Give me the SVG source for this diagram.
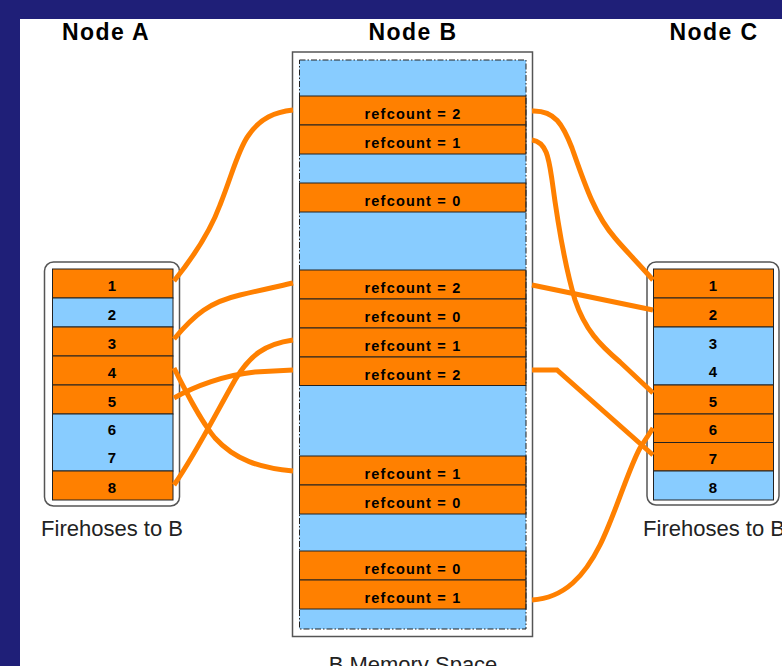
<svg xmlns="http://www.w3.org/2000/svg" width="782" height="666" viewBox="0 0 782 666">
<style>
.title{font-family:"Liberation Sans",Arial,sans-serif;font-weight:bold;font-size:23px;letter-spacing:1.4px;fill:#000;text-anchor:middle}
.cap{font-family:"Liberation Sans",Arial,sans-serif;font-size:22px;fill:#222;text-anchor:middle}
.lbl{font-family:"Liberation Sans",Arial,sans-serif;font-weight:bold;font-size:14.5px;letter-spacing:1.2px;fill:#000;text-anchor:middle}
.num{font-family:"Liberation Sans",Arial,sans-serif;font-weight:bold;font-size:15px;fill:#000;text-anchor:middle}
.o{fill:#FF8000;stroke:#222;stroke-width:1}
.b{fill:#88CCFF;stroke:#222;stroke-width:1}
.bn{fill:#88CCFF;stroke:none}
.frame{fill:#fff;stroke:#555;stroke-width:1.5}
.conn path{fill:none;stroke:#FF8000;stroke-width:5}
</style>
<rect x="0" y="0" width="782" height="666" fill="#1f1f78"/>
<rect x="20" y="19" width="762" height="647" fill="#fff"/>
<text class="title" x="106" y="40">Node A</text>
<text class="title" x="413" y="40">Node B</text>
<text class="title" x="714" y="40">Node C</text>

<g id="nodeB">
<rect class="frame" x="292.5" y="52" width="240" height="584.5"/>
<rect class="bn" x="299.5" y="60" width="226.5" height="569"/>
<rect class="o" x="299.5" y="96" width="226.5" height="29"/>
<rect class="o" x="299.5" y="125" width="226.5" height="29"/>
<rect class="o" x="299.5" y="183" width="226.5" height="29"/>
<rect class="o" x="299.5" y="270" width="226.5" height="29"/>
<rect class="o" x="299.5" y="299" width="226.5" height="29"/>
<rect class="o" x="299.5" y="328" width="226.5" height="29"/>
<rect class="o" x="299.5" y="357" width="226.5" height="28.5"/>
<rect class="o" x="299.5" y="456" width="226.5" height="29"/>
<rect class="o" x="299.5" y="485" width="226.5" height="29"/>
<rect class="o" x="299.5" y="551" width="226.5" height="29"/>
<rect class="o" x="299.5" y="580" width="226.5" height="29"/>
<rect x="299.5" y="60" width="226.5" height="569" fill="none" stroke="#222" stroke-width="1" stroke-dasharray="6 2 1.5 2"/>
<text class="lbl" x="413" y="119">refcount = 2</text>
<text class="lbl" x="413" y="148">refcount = 1</text>
<text class="lbl" x="413" y="206">refcount = 0</text>
<text class="lbl" x="413" y="293">refcount = 2</text>
<text class="lbl" x="413" y="322">refcount = 0</text>
<text class="lbl" x="413" y="351">refcount = 1</text>
<text class="lbl" x="413" y="380">refcount = 2</text>
<text class="lbl" x="413" y="479">refcount = 1</text>
<text class="lbl" x="413" y="508">refcount = 0</text>
<text class="lbl" x="413" y="574">refcount = 0</text>
<text class="lbl" x="413" y="603">refcount = 1</text>
<text class="cap" x="413" y="672">B Memory Space</text>
</g>

<g id="nodeA">
<rect class="frame" x="44.5" y="262" width="135" height="244" rx="9"/>
<rect class="o" x="52.5" y="269" width="120.5" height="29"/>
<rect class="b" x="52.5" y="298" width="120.5" height="29"/>
<rect class="o" x="52.5" y="327" width="120.5" height="29"/>
<rect class="o" x="52.5" y="356" width="120.5" height="29"/>
<rect class="o" x="52.5" y="385" width="120.5" height="29"/>
<rect class="b" x="52.5" y="414" width="120.5" height="57"/>
<rect class="o" x="52.5" y="471" width="120.5" height="29"/>
<text class="num" x="112" y="291">1</text>
<text class="num" x="112" y="320">2</text>
<text class="num" x="112" y="349">3</text>
<text class="num" x="112" y="378">4</text>
<text class="num" x="112" y="407">5</text>
<text class="num" x="112" y="435">6</text>
<text class="num" x="112" y="463">7</text>
<text class="num" x="112" y="493">8</text>
<text class="cap" x="112" y="536">Firehoses to B</text>
</g>

<g id="nodeC">
<rect class="frame" x="647" y="262" width="132" height="243" rx="9"/>
<rect class="o" x="653.5" y="269" width="120" height="29"/>
<rect class="o" x="653.5" y="298" width="120" height="29"/>
<rect class="b" x="653.5" y="327" width="120" height="58"/>
<rect class="o" x="653.5" y="385" width="120" height="29"/>
<rect class="o" x="653.5" y="414" width="120" height="28.5"/>
<rect class="o" x="653.5" y="442.5" width="120" height="28.5"/>
<rect class="b" x="653.5" y="471" width="120" height="29"/>
<text class="num" x="713" y="291">1</text>
<text class="num" x="713" y="320">2</text>
<text class="num" x="713" y="349">3</text>
<text class="num" x="713" y="377">4</text>
<text class="num" x="713" y="407">5</text>
<text class="num" x="713" y="435">6</text>
<text class="num" x="713" y="464">7</text>
<text class="num" x="713" y="493">8</text>
<text class="cap" x="714" y="536">Firehoses to B</text>
</g>

<g id="connectors" class="conn">
<path d="M174,281 C195,255 210,232 220,205 C232,175 238,150 248,136 C260,118 275,112 293,110"/>
<path d="M174,339 C195,314 210,302 240,295 S280,286 293,283"/>
<path d="M174,485 C195,455 215,415 235,380 C250,355 265,344 293,340"/>
<path d="M174,398 C195,386 225,375 255,372 L293,370"/>
<path d="M174,368 C185,390 200,420 215,438 C235,460 260,468 293,471"/>
<path d="M532,111 C555,110 563,125 572,148 C585,185 595,215 615,238 C625,250 640,265 653,280"/>
<path d="M532,140 C547,142 549,160 552,180 C558,225 566,270 575,300 C585,330 600,345 620,362 L653,393"/>
<path d="M532,285 L653,310"/>
<path d="M532,370 L557,370 L653,455"/>
<path d="M532,600 C565,598 585,575 600,545 C615,515 628,470 640,448 L653,428"/>
</g>
</svg>
